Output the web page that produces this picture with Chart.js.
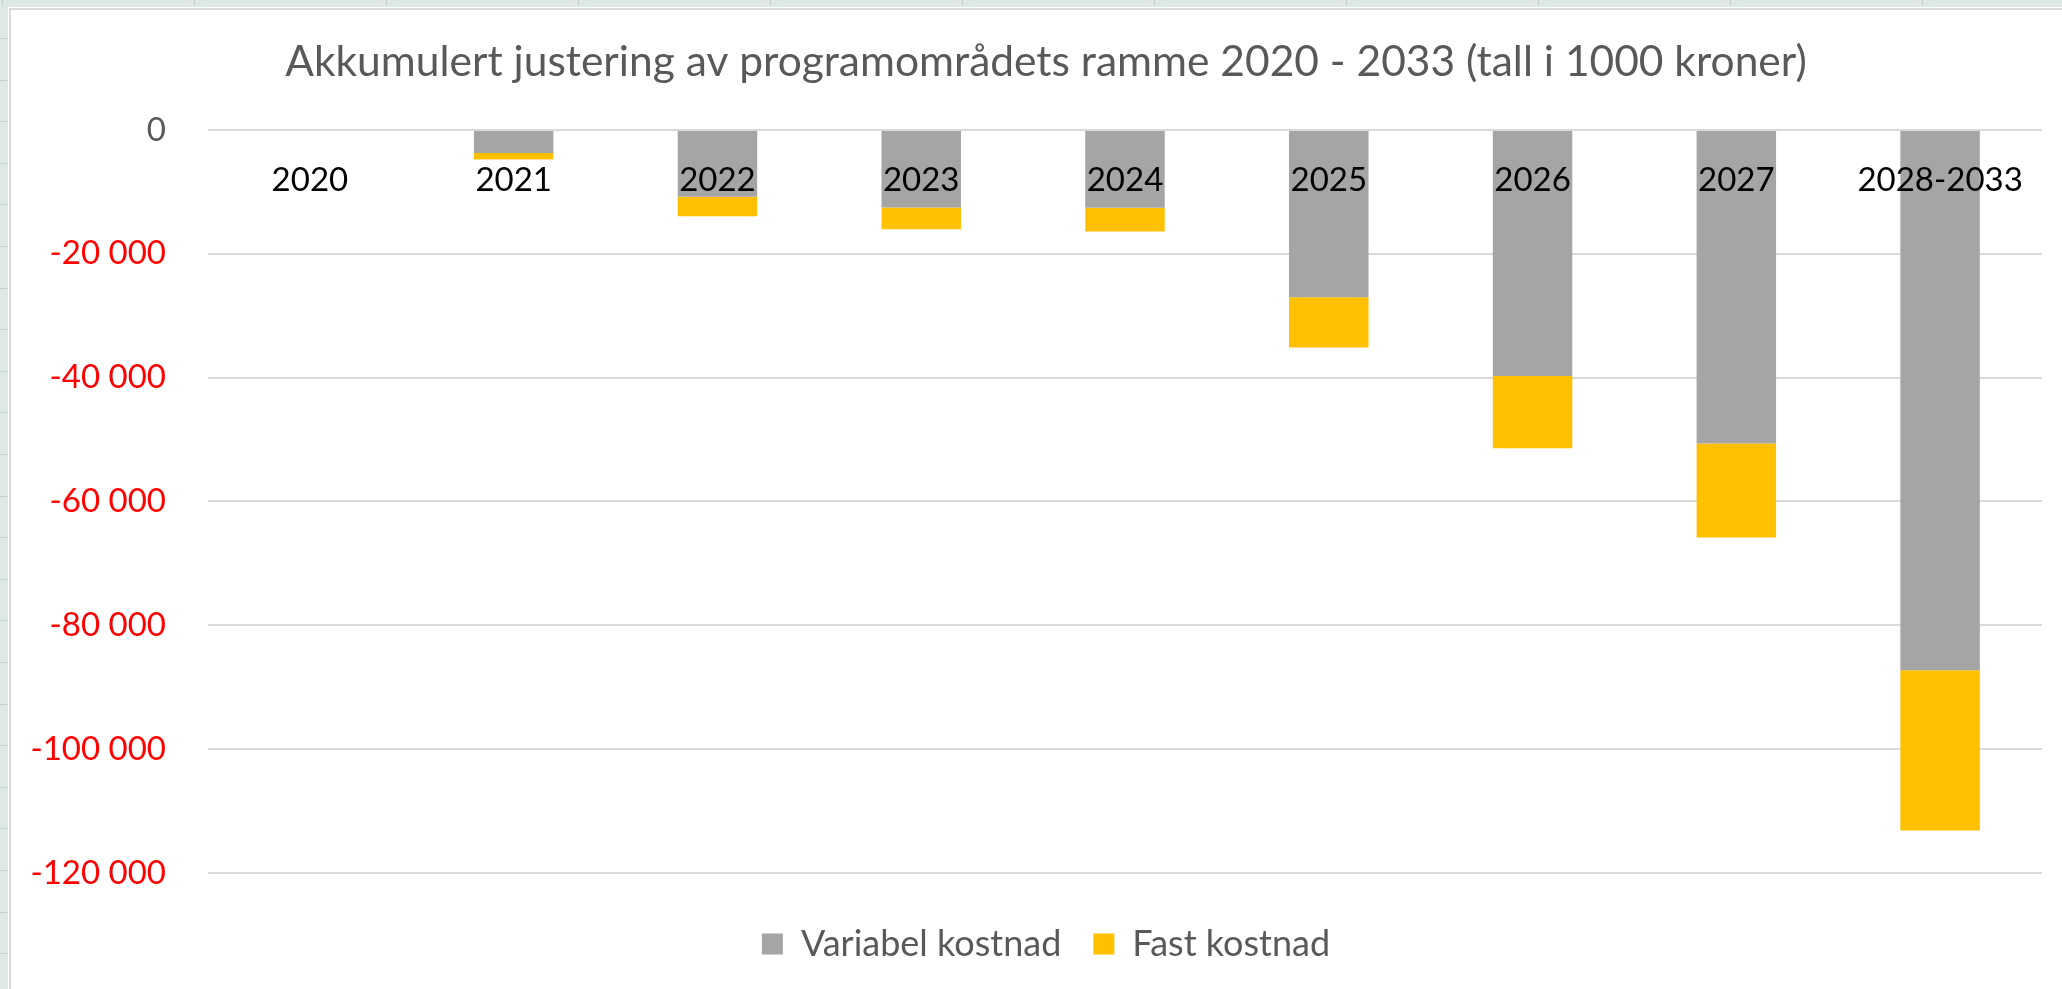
<!DOCTYPE html>
<html>
<head>
<meta charset="utf-8">
<script src="https://cdn.jsdelivr.net/npm/chart.js@4/dist/chart.umd.min.js"></script>
<style>
  html, body { margin: 0; padding: 0; background: #ffffff; overflow: hidden; }
  #wrap { width: 2062px; height: 989px; position: relative; }
  canvas { display: block; }
</style>
</head>
<body>
<div id="wrap"><canvas id="chart" width="2062" height="989"></canvas></div>
<script>
// ---- data ----
const titleText = 'Akkumulert justering av programområdets ramme 2020 - 2033 (tall i 1000 kroner)';
const categories = ['2020', '2021', '2022', '2023', '2024', '2025', '2026', '2027', '2028-2033'];
const seriesNames = ['Variabel kostnad', 'Fast kostnad'];
const variabelKostnad = [0, -3700, -10800, -12500, -12550, -27000, -39750, -50650, -87250];
const fastKostnad = [0, -1050, -3150, -3550, -3850, -8150, -11650, -15150, -25900];
const yTickValues = [0, -20000, -40000, -60000, -80000, -100000, -120000];

// ---- helpers ----
function formatNumber(v) {
  const s = String(Math.abs(v)).replace(/\B(?=(\d{3})+(?!\d))/g, ' ');
  return (v < 0 ? '-' : '') + s;
}

// Excel-like sheet frame behind the chart (decoration only)
const sheetFrame = {
  id: 'sheetFrame',
  afterLayout(chart) {
    // let the y tick labels use the whole left margin (avoid clipping of long labels)
    chart.scales.y.left = 0;
  },
  beforeDraw(chart) {
    const ctx = chart.ctx;
    const W = chart.width, H = chart.height;
    ctx.save();
    ctx.fillStyle = '#ffffff';
    ctx.fillRect(0, 0, W, H);
    ctx.fillStyle = '#dde9e4';
    ctx.fillRect(0, 0, W, 7);
    ctx.fillRect(0, 0, 8, H);
    ctx.strokeStyle = '#c9cfcc';
    ctx.lineWidth = 1;
    for (let x = 2; x < W; x += 192) {
      ctx.beginPath(); ctx.moveTo(x + 0.5, 0); ctx.lineTo(x + 0.5, 6); ctx.stroke();
    }
    for (let y = 38; y < H; y += 41.6) {
      ctx.beginPath(); ctx.moveTo(0, Math.round(y) + 0.5); ctx.lineTo(7, Math.round(y) + 0.5); ctx.stroke();
    }
    ctx.fillStyle = '#d9d9d9';
    ctx.fillRect(9, 8, 2, H - 8);
    ctx.fillRect(9, 8, W - 9, 2);
    ctx.restore();
  }
};

const FONT = 'Lato';

new Chart(document.getElementById('chart'), {
  type: 'bar',
  data: {
    labels: categories,
    datasets: [
      { label: seriesNames[0], data: variabelKostnad, backgroundColor: '#a5a5a5', borderWidth: 0 },
      { label: seriesNames[1], data: fastKostnad, backgroundColor: '#ffc000', borderWidth: 0 }
    ]
  },
  options: {
    responsive: false,
    animation: false,
    devicePixelRatio: 1,
    layout: { padding: { left: 50, right: 20, top: 0, bottom: 17 } },
    datasets: { bar: { barPercentage: 0.39, categoryPercentage: 1.0 } },
    plugins: {
      tooltip: { enabled: false },
      title: {
        display: true,
        text: titleText,
        color: '#595959',
        font: { family: FONT, size: 42.5, weight: 'normal' },
        padding: { top: 36.5, bottom: 42.5 }
      },
      legend: {
        display: true,
        position: 'bottom',
        labels: {
          color: '#595959',
          font: { family: FONT, size: 36 },
          boxWidth: 21,
          boxHeight: 21,
          padding: 32
        }
      }
    },
    scales: {
      x: {
        type: 'category',
        stacked: true,
        position: { y: 0 },
        grid: { display: false, drawTicks: false },
        border: { display: false },
        ticks: {
          z: 1,
          color: '#000000',
          font: { family: FONT, size: 33 },
          padding: 31,
          maxRotation: 0,
          autoSkip: false
        }
      },
      y: {
        stacked: true,
        min: -123400,
        max: 0,
        afterBuildTicks(scale) { scale.ticks = yTickValues.map(v => ({ value: v })); },
        afterFit(scale) { scale.width = 158; },
        grid: { color: '#d9d9d9', lineWidth: 2, drawTicks: false },
        border: { display: false },
        ticks: {
          padding: 42,
          font: { family: FONT, size: 33 },
          color: (ctx) => (ctx.tick && ctx.tick.value < 0 ? '#ff0000' : '#595959'),
          callback: (v) => formatNumber(v)
        }
      }
    }
  },
  plugins: [sheetFrame]
});
</script>
</body>
</html>
